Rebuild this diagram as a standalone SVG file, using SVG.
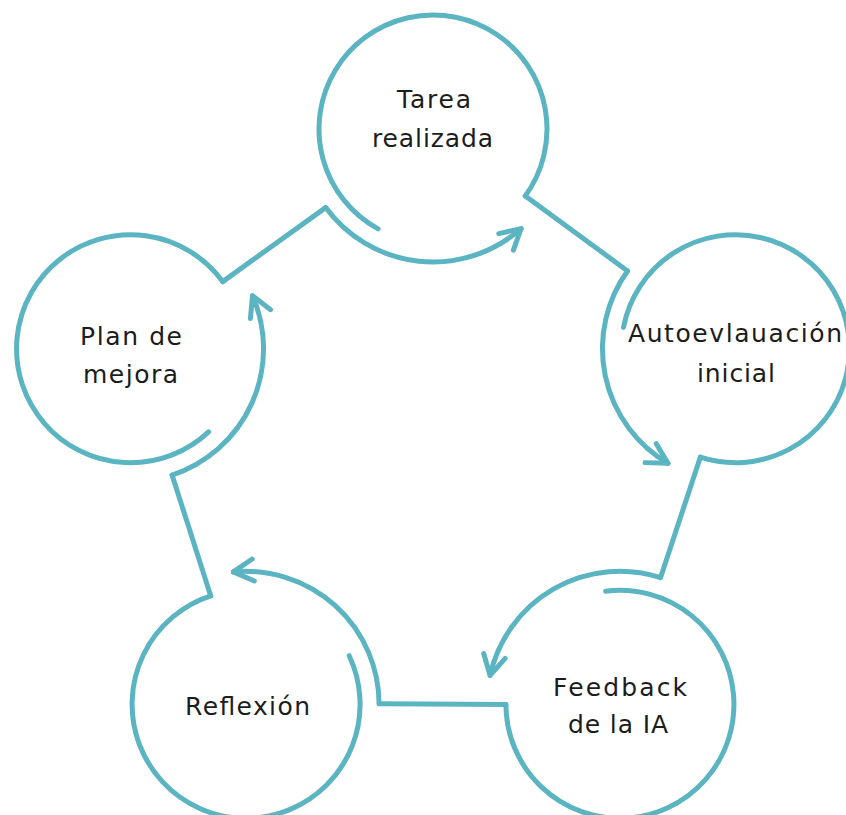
<svg xmlns="http://www.w3.org/2000/svg" width="846" height="815" viewBox="0 0 846 815">
  <style>
    .ring { fill: none; stroke: #5BB4C1; stroke-width: 5; stroke-linecap: round; stroke-linejoin: round; }
    .lbl { font-family: "DejaVu Sans", "Liberation Sans", sans-serif; font-size: 25px; fill: #1c1c1c; text-anchor: middle; }
  </style>
  <defs>
    <marker id="chev" markerUnits="userSpaceOnUse" orient="auto" markerWidth="40" markerHeight="40" viewBox="-30 -20 40 40" refX="0" refY="0" overflow="visible">
      <path d="M -20 -11 L 0 0 L -20 11" fill="none" stroke="#5BB4C1" stroke-width="5" stroke-linecap="round" stroke-linejoin="round"/>
    </marker>
    <g id="shape">
      <path class="ring" d="M 378.1 228.9 A 114 114 0 1 1 525.3 195.9"/>
      <path class="ring" d="M 325.7 207.6 A 133 133 0 0 0 521.1 228.6" marker-end="url(#chev)"/>
    </g>
  </defs>
  <rect width="846" height="815" fill="#ffffff"/>

  <g id="connectors">
    <path class="ring" d="M 525.3 195.9 L 627.5 270.9"/>
    <path class="ring" d="M 525.3 195.9 L 627.5 270.9" transform="rotate(72 433 447)"/>
    <path class="ring" d="M 525.3 195.9 L 627.5 270.9" transform="rotate(144 433 447)"/>
    <path class="ring" d="M 525.3 195.9 L 627.5 270.9" transform="rotate(216 433 447)"/>
    <path class="ring" d="M 525.3 195.9 L 627.5 270.9" transform="rotate(288 433 447)"/>
  </g>

  <g id="node-tarea">
    <use href="#shape"/>
    <text class="lbl" x="434" y="108" textLength="74">Tarea</text>
    <text class="lbl" x="432.5" y="147" textLength="121">realizada</text>
  </g>

  <g id="node-autoevaluacion">
    <use href="#shape" transform="rotate(72 433 447)"/>
    <text class="lbl" x="735" y="342" textLength="214">Autoevlauación</text>
    <text class="lbl" x="736" y="382" textLength="78">inicial</text>
  </g>

  <g id="node-feedback">
    <use href="#shape" transform="rotate(144 433 447)"/>
    <text class="lbl" x="620" y="696" textLength="134">Feedback</text>
    <text class="lbl" x="618" y="733" textLength="100">de la IA</text>
  </g>

  <g id="node-reflexion">
    <use href="#shape" transform="rotate(216 433 447)"/>
    <text class="lbl" x="247.5" y="715" textLength="125">Reflexión</text>
  </g>

  <g id="node-plan">
    <use href="#shape" transform="rotate(288 433 447)"/>
    <text class="lbl" x="131" y="345" textLength="102">Plan de</text>
    <text class="lbl" x="130.5" y="383" textLength="95">mejora</text>
  </g>
</svg>
